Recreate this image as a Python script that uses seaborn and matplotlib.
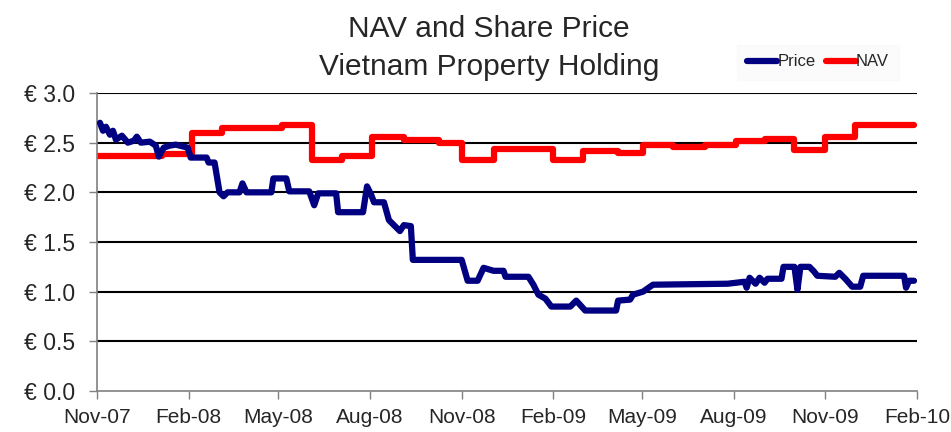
import matplotlib
matplotlib.use("Agg")

import matplotlib.pyplot as plt
import matplotlib.dates as mdates
import pandas as pd
import seaborn as sns

# NAV: step values, each holds from its date until the next one
nav_dates = [
    "2007-11-01", "2008-01-05", "2008-02-04", "2008-03-05", "2008-05-05",
    "2008-06-04", "2008-07-04", "2008-08-03", "2008-09-04", "2008-10-09",
    "2008-11-01", "2008-12-03", "2009-02-01", "2009-03-03", "2009-04-07",
    "2009-05-02", "2009-06-01", "2009-07-03", "2009-08-03", "2009-09-01",
    "2009-10-01", "2009-11-01", "2009-12-01", "2010-01-29",
]
nav_values = [
    2.37, 2.39, 2.60, 2.65, 2.68,
    2.33, 2.37, 2.56, 2.53, 2.50,
    2.33, 2.44, 2.33, 2.42, 2.40,
    2.48, 2.46, 2.48, 2.52, 2.54,
    2.43, 2.56, 2.68, 2.68,
]

price_dates = [
    "2007-11-04", "2007-11-07", "2007-11-10", "2007-11-14", "2007-11-17",
    "2007-11-20", "2007-11-26", "2007-12-02", "2007-12-08", "2007-12-11",
    "2007-12-15", "2007-12-24", "2007-12-30", "2008-01-02", "2008-01-07",
    "2008-01-13", "2008-01-19", "2008-01-27", "2008-01-31", "2008-02-03",
    "2008-02-19", "2008-02-21", "2008-02-27", "2008-03-03", "2008-03-07",
    "2008-03-11", "2008-03-23", "2008-03-26", "2008-03-30", "2008-04-24",
    "2008-04-26", "2008-05-09", "2008-05-12", "2008-06-01", "2008-06-06",
    "2008-06-10", "2008-06-28", "2008-06-30", "2008-07-25", "2008-07-29",
    "2008-08-02", "2008-08-05", "2008-08-15", "2008-08-20", "2008-08-25",
    "2008-08-31", "2008-09-04", "2008-09-11", "2008-09-13", "2008-11-01",
    "2008-11-07", "2008-11-17", "2008-11-23", "2008-12-03", "2008-12-13",
    "2008-12-15", "2009-01-07", "2009-01-12", "2009-01-17", "2009-01-24",
    "2009-01-30", "2009-02-18", "2009-02-24", "2009-03-05", "2009-04-05",
    "2009-04-07", "2009-04-19", "2009-04-22", "2009-05-02", "2009-05-12",
    "2009-07-26", "2009-08-12", "2009-08-14", "2009-08-17", "2009-08-23",
    "2009-08-27", "2009-09-01", "2009-09-04", "2009-09-18", "2009-09-20",
    "2009-10-01", "2009-10-04", "2009-10-07", "2009-10-16", "2009-10-20",
    "2009-10-24", "2009-11-11", "2009-11-15", "2009-11-21", "2009-11-28",
    "2009-12-06", "2009-12-09", "2010-01-19", "2010-01-21", "2010-01-24",
    "2010-01-29",
]
price_values = [
    2.70, 2.62, 2.66, 2.58, 2.62,
    2.53, 2.57, 2.50, 2.52, 2.56,
    2.50, 2.51, 2.47, 2.36, 2.45,
    2.47, 2.48, 2.46, 2.45, 2.35,
    2.35, 2.30, 2.30, 2.00, 1.96,
    2.00, 2.00, 2.09, 2.00, 2.00,
    2.14, 2.14, 2.01, 2.01, 1.87,
    1.99, 1.99, 1.80, 1.80, 2.06,
    1.98, 1.90, 1.90, 1.72, 1.67,
    1.61, 1.67, 1.66, 1.32, 1.32,
    1.11, 1.11, 1.24, 1.21, 1.21,
    1.15, 1.15, 1.07, 0.97, 0.93,
    0.85, 0.85, 0.91, 0.81, 0.81,
    0.91, 0.92, 0.97, 1.00, 1.07,
    1.08, 1.10, 1.04, 1.14, 1.08,
    1.14, 1.09, 1.13, 1.13, 1.25,
    1.25, 1.02, 1.25, 1.25, 1.21,
    1.16, 1.15, 1.19, 1.13, 1.05,
    1.05, 1.16, 1.16, 1.04, 1.11,
    1.11,
]

y_ticks = [0.0, 0.5, 1.0, 1.5, 2.0, 2.5, 3.0]
title_lines = ["NAV and Share Price", "Vietnam Property Holding"]

nav_df = pd.DataFrame({"date": pd.to_datetime(nav_dates), "value": nav_values})
price_df = pd.DataFrame({"date": pd.to_datetime(price_dates), "value": price_values})

sns.set_style("white")
plt.rcParams["font.family"] = ["Liberation Sans", "DejaVu Sans"]

fig = plt.figure(figsize=(9.51, 4.32), dpi=100)
ax = fig.add_axes([97 / 951, 1 - 391 / 432, 820 / 951, 298 / 432])

for y in y_ticks[1:]:
    ax.axhline(y, color="black", linewidth=1.5, zorder=1)

sns.lineplot(data=price_df, x="date", y="value", ax=ax, color="#000080",
             linewidth=4.5, estimator=None, sort=False, label="Price",
             solid_capstyle="round", solid_joinstyle="round", zorder=3)
sns.lineplot(data=nav_df, x="date", y="value", ax=ax, color="#ff0000",
             linewidth=4.5, estimator=None, sort=False, label="NAV",
             drawstyle="steps-post", solid_capstyle="round", zorder=2)

ax.set_xlim(pd.Timestamp("2007-11-01"), pd.Timestamp("2010-02-01"))
ax.set_ylim(0, 3.0)
ax.set_yticks(y_ticks)
ax.set_yticklabels([f"€ {v:.1f}" for v in y_ticks], fontsize=16.5)
ax.xaxis.set_major_locator(mdates.MonthLocator(bymonth=[2, 5, 8, 11]))
ax.xaxis.set_major_formatter(mdates.DateFormatter("%b-%y"))
for lab in ax.get_xticklabels():
    lab.set_fontsize(15)
ax.set_xlabel("")
ax.set_ylabel("")
ax.tick_params(axis="both", direction="out", length=6, width=1,
               color="#808080", left=True, bottom=True)
ax.tick_params(axis="x", pad=6)
ax.tick_params(axis="y", pad=10)

for side in ["top", "right"]:
    ax.spines[side].set_visible(False)
for side in ["left", "bottom"]:
    ax.spines[side].set_color("#808080")
    ax.spines[side].set_linewidth(1.2)

fig.text(489 / 951, 1 - 37 / 432, title_lines[0], ha="center", va="baseline",
         fontsize=21.5)
fig.text(489 / 951, 1 - 75 / 432, title_lines[1], ha="center", va="baseline",
         fontsize=21.5)

ax.get_legend().remove()
leg = fig.legend(loc="center", bbox_to_anchor=(818 / 951, 1 - 62 / 432),
                 ncol=2, frameon=True, handlelength=1.8, handletextpad=0.0,
                 columnspacing=0.6, prop={"size": 12}, borderpad=0.6)
leg.get_frame().set_facecolor("#fafafa")
leg.get_frame().set_edgecolor("#fafafa")
leg.get_frame().set_boxstyle("square", pad=0)

fig.savefig("out.png", dpi=100)
